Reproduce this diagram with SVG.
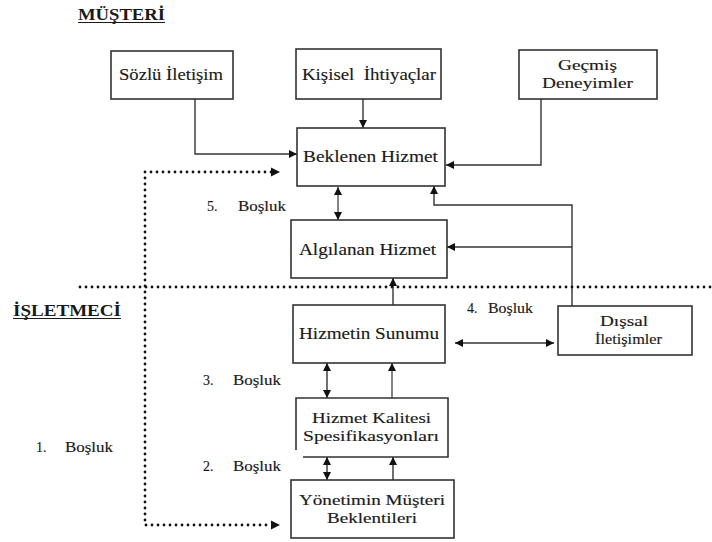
<svg xmlns="http://www.w3.org/2000/svg" width="712" height="542" viewBox="0 0 712 542">
<style>
  .box { fill: #ffffff; stroke: #333333; stroke-width: 1.6; }
  .ln { fill: none; stroke: #333333; stroke-width: 1.4; }
  .lg { fill: none; stroke: #666666; stroke-width: 1.6; }
  .dot { fill: none; stroke: #111111; stroke-width: 2.8; stroke-linecap: round; stroke-dasharray: 0 6; }
  .t { font-family: "Liberation Serif", "DejaVu Serif", "Times New Roman", serif; font-size: 17.5px; fill: #1a1a1a; stroke: #1a1a1a; stroke-width: 0.15; }
  .t2 { font-family: "Liberation Serif", "DejaVu Serif", "Times New Roman", serif; font-size: 14.5px; fill: #1a1a1a; stroke: #1a1a1a; stroke-width: 0.15; }
  .g { font-family: "Liberation Serif", "DejaVu Serif", "Times New Roman", serif; font-size: 14px; fill: #1a1a1a; stroke: #1a1a1a; stroke-width: 0.15; }
  .h { font-family: "Liberation Serif", "DejaVu Serif", "Times New Roman", serif; font-size: 17px; font-weight: bold; fill: #1a1a1a; }
</style>
<defs>
  <marker id="ah" viewBox="0 0 10 10" refX="10" refY="5" markerWidth="9" markerHeight="8" markerUnits="userSpaceOnUse" orient="auto-start-reverse">
    <path d="M0,0 L10,5 L0,10 z" fill="#111111"/>
  </marker>
</defs>
<rect width="712" height="542" fill="#ffffff"/>

<g id="headings">
  <text class="h" x="78" y="20" textLength="87" lengthAdjust="spacingAndGlyphs">MÜŞTERİ</text>
  <line x1="78" y1="22.5" x2="165" y2="22.5" stroke="#1a1a1a" stroke-width="1.2"/>
  <text class="h" x="13" y="316" textLength="108" lengthAdjust="spacingAndGlyphs">İŞLETMECİ</text>
  <line x1="13" y1="318.5" x2="121" y2="318.5" stroke="#1a1a1a" stroke-width="1.2"/>
</g>

<g id="connectors">
  <polyline class="ln" points="195,99 195,154 297,154" marker-end="url(#ah)"/>
  <line class="ln" x1="363" y1="99" x2="363" y2="128" marker-end="url(#ah)"/>
  <polyline class="ln" points="541,99 541,165 446,165" marker-end="url(#ah)"/>
  <line class="lg" x1="338" y1="187" x2="338" y2="220" marker-start="url(#ah)" marker-end="url(#ah)"/>
  <polyline class="ln" points="572,306 572,205 434,205 434,186" marker-end="url(#ah)"/>
  <line class="ln" x1="572" y1="247" x2="447" y2="247" marker-end="url(#ah)"/>
  <line class="ln" x1="393" y1="305" x2="393" y2="278" marker-end="url(#ah)"/>
  <line class="ln" x1="455" y1="343" x2="554" y2="343" marker-start="url(#ah)" marker-end="url(#ah)"/>
  <line class="ln" x1="327" y1="363" x2="327" y2="398" marker-start="url(#ah)" marker-end="url(#ah)"/>
  <line class="lg" x1="392" y1="398" x2="392" y2="363" marker-end="url(#ah)"/>
  <line class="ln" x1="327" y1="457" x2="327" y2="480" marker-start="url(#ah)" marker-end="url(#ah)"/>
  <line class="ln" x1="393" y1="480" x2="393" y2="457" marker-end="url(#ah)"/>
  <line class="dot" x1="80" y1="287" x2="712" y2="287"/>
  <polyline class="dot" points="271,172 145,172 145,525 271,525"/>
  <path d="M271,167.5 L280,172 L271,176.5 z" fill="#111111"/>
  <path d="M271,520.5 L280,525 L271,529.5 z" fill="#111111"/>
</g>

<g id="sozlu">
  <rect class="box" x="111" y="51" width="122" height="48"/>
  <text class="t" x="119" y="80" textLength="104" lengthAdjust="spacingAndGlyphs">Sözlü İletişim</text>
</g>
<g id="kisisel">
  <rect class="box" x="296" y="49" width="145" height="50"/>
  <text class="t" x="302" y="80" textLength="134" lengthAdjust="spacingAndGlyphs" xml:space="preserve">Kişisel  İhtiyaçlar</text>
</g>
<g id="gecmis">
  <rect class="box" x="519" y="50" width="138" height="49"/>
  <text class="t2" x="558" y="70" textLength="59" lengthAdjust="spacingAndGlyphs">Geçmiş</text>
  <text class="t2" x="542" y="88" textLength="91" lengthAdjust="spacingAndGlyphs">Deneyimler</text>
</g>
<g id="beklenen">
  <rect class="box" x="297" y="128" width="148" height="58"/>
  <text class="t" x="303" y="162" textLength="135" lengthAdjust="spacingAndGlyphs">Beklenen Hizmet</text>
</g>
<g id="algilanan">
  <rect class="box" x="291" y="220" width="156" height="58"/>
  <text class="t" x="299" y="255" textLength="137" lengthAdjust="spacingAndGlyphs">Algılanan Hizmet</text>
</g>
<g id="sunum">
  <rect class="box" x="293" y="305" width="152" height="58"/>
  <text class="t" x="299" y="339" textLength="140" lengthAdjust="spacingAndGlyphs">Hizmetin Sunumu</text>
</g>
<g id="dissal">
  <rect class="box" x="558" y="306" width="134" height="49"/>
  <text class="t2" x="600" y="326" textLength="48" lengthAdjust="spacingAndGlyphs">Dışsal</text>
  <text class="t2" x="595" y="344" textLength="67" lengthAdjust="spacingAndGlyphs">İletişimler</text>
</g>
<g id="kalite">
  <path class="box" d="M296,450 V398 H448 V457 H303"/>
  <text class="t2" x="312" y="423" textLength="119" lengthAdjust="spacingAndGlyphs">Hizmet Kalitesi</text>
  <text class="t2" x="303" y="441" textLength="136" lengthAdjust="spacingAndGlyphs">Spesifikasyonları</text>
</g>
<g id="yonetim">
  <rect class="box" x="291" y="480" width="163" height="58"/>
  <text class="t2" x="299" y="505" textLength="146" lengthAdjust="spacingAndGlyphs">Yönetimin Müşteri</text>
  <text class="t2" x="327" y="523" textLength="90" lengthAdjust="spacingAndGlyphs">Beklentileri</text>
</g>

<g id="gaps">
  <text class="g" x="207" y="211">5.</text>
  <text class="g" x="238" y="211" textLength="48" lengthAdjust="spacingAndGlyphs">Boşluk</text>
  <text class="g" x="467" y="313">4.</text>
  <text class="g" x="488" y="313" textLength="45" lengthAdjust="spacingAndGlyphs">Boşluk</text>
  <text class="g" x="203" y="385">3.</text>
  <text class="g" x="233" y="385" textLength="48" lengthAdjust="spacingAndGlyphs">Boşluk</text>
  <text class="g" x="203" y="471">2.</text>
  <text class="g" x="233" y="471" textLength="48" lengthAdjust="spacingAndGlyphs">Boşluk</text>
  <text class="g" x="36" y="452">1.</text>
  <text class="g" x="65" y="452" textLength="48" lengthAdjust="spacingAndGlyphs">Boşluk</text>
</g>
</svg>
